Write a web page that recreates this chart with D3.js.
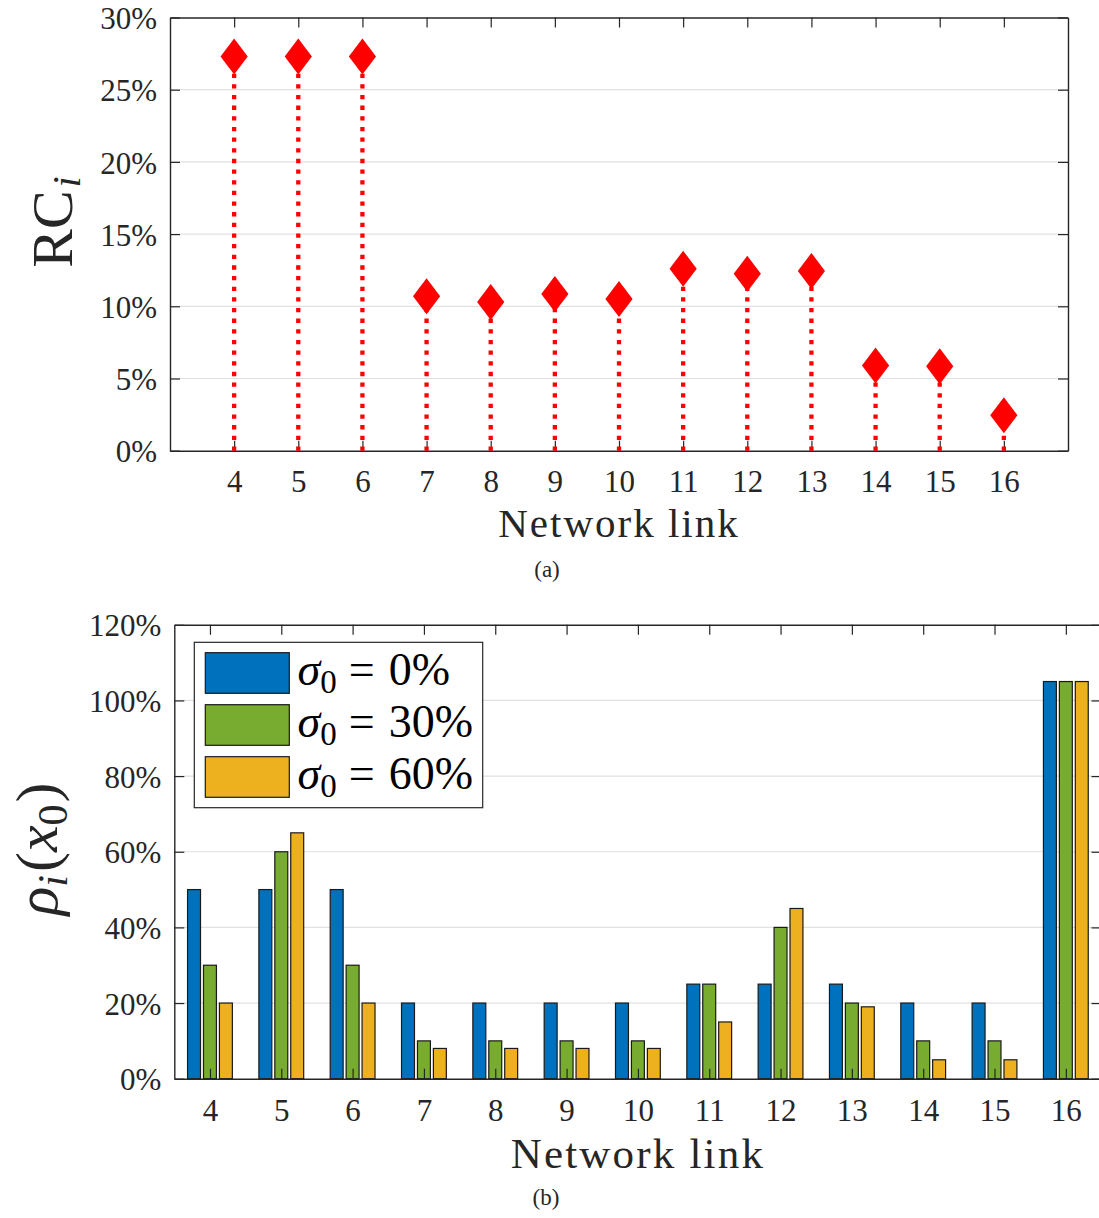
<!DOCTYPE html>
<html>
<head>
<meta charset="utf-8">
<script src="https://cdn.jsdelivr.net/npm/d3@7"></script>
<style>
  body { margin: 0; background: #fff; }
  svg { display: block; font-family: "Liberation Serif", "Times New Roman", serif; }
  svg text { font-family: "Liberation Serif", "Times New Roman", serif; }
</style>
</head>
<body>
<svg id="fig" width="1099" height="1218"></svg>
<script>
// ---- data -------------------------------------------------------------
const links = [4, 5, 6, 7, 8, 9, 10, 11, 12, 13, 14, 15, 16];

// (a) relative contribution of each link, in %
const rcValues = [27.3, 27.3, 27.3, 10.7, 10.3, 10.85, 10.5, 12.6, 12.25, 12.45, 5.9, 5.85, 2.45];
const rcTicks = [0, 5, 10, 15, 20, 25, 30];

// (b) rho_i(x_0) for three initial uncertainty levels, in %
const rhoSigma0 = [50, 50, 50, 20, 20, 20, 20, 25, 25, 25, 20, 20, 105];
const rhoSigma30 = [30, 60, 30, 10, 10, 10, 10, 25, 40, 20, 10, 10, 105];
const rhoSigma60 = [20, 65, 20, 8, 8, 8, 8, 15, 45, 19, 5, 5, 105];
const sigmaLabels = ["0%", "30%", "60%"];
const rhoTicks = [0, 20, 40, 60, 80, 100, 120];

// ---- styling ----------------------------------------------------------
const axisColor = "#262626";
const gridColor = "#e1e1e1";
const seriesColors = ["#0072BD", "#77AC30", "#EDB120"];
const tickFont = 31;

const svg = d3.select("#fig");
const pct = d => d + "%";

function grid(g, x, y, ticks) {
  const [lo, hi] = y.domain();
  g.append("g").selectAll("line")
    .data(ticks.filter(t => t > lo && t < hi))
    .join("line")
    .attr("x1", x.range()[0]).attr("x2", x.range()[1])
    .attr("y1", d => y(d)).attr("y2", d => y(d))
    .attr("stroke", gridColor).attr("stroke-width", 1.2);
}

function box(g, x, y, xTicks, yTicks, xLabelGap) {
  const [x0, x1] = x.range();
  const [y0, y1] = y.range();
  const style = sel => {
    sel.attr("font-family", null);
    sel.selectAll("path.domain").attr("stroke", axisColor).attr("stroke-width", 1.4);
    sel.selectAll(".tick line").attr("stroke", axisColor).attr("stroke-width", 1.2);
    sel.selectAll("text").attr("fill", axisColor).attr("font-size", tickFont);
  };
  g.append("g").attr("transform", `translate(0,${y0})`)
    .call(d3.axisBottom(x).tickValues(xTicks).tickFormat(d3.format("d"))
      .tickSizeInner(-10).tickSizeOuter(0))
    .call(style)
    .call(s => s.selectAll("text").attr("dy", null).attr("y", xLabelGap));
  g.append("g").attr("transform", `translate(0,${y1})`)
    .call(d3.axisTop(x).tickValues(xTicks).tickFormat("")
      .tickSizeInner(-10).tickSizeOuter(0))
    .call(style);
  g.append("g").attr("transform", `translate(${x0},0)`)
    .call(d3.axisLeft(y).tickValues(yTicks).tickFormat(pct)
      .tickSizeInner(-10).tickSizeOuter(0).tickPadding(13))
    .call(style)
    .call(s => s.selectAll("text").attr("dy", "0.36em"));
  g.append("g").attr("transform", `translate(${x1},0)`)
    .call(d3.axisRight(y).tickValues(yTicks).tickFormat("")
      .tickSizeInner(-10).tickSizeOuter(0))
    .call(style);
}

// ---- (a) stem plot ----------------------------------------------------
const xa = d3.scaleLinear().domain([3, 17]).range([170, 1068]);
const ya = d3.scaleLinear().domain([0, 30]).range([450.7, 17.5]);
const ga = svg.append("g");

grid(ga, xa, ya, rcTicks);
box(ga, xa, ya, links, rcTicks, 41);

const stems = ga.append("g");
stems.selectAll("line")
  .data(links.map((l, i) => ({ l, v: rcValues[i] })))
  .join("line")
  .attr("x1", d => xa(d.l)).attr("x2", d => xa(d.l))
  .attr("y1", ya(0)).attr("y2", d => ya(d.v))
  .attr("stroke", "#ff0000").attr("stroke-width", 4.3)
  .attr("stroke-dasharray", "4.3 6.35");

const dW = 13.6, dH = 18;
stems.selectAll("path")
  .data(links.map((l, i) => ({ l, v: rcValues[i] })))
  .join("path")
  .attr("d", d => {
    const cx = xa(d.l), cy = ya(d.v);
    return `M${cx},${cy - dH}L${cx + dW},${cy}L${cx},${cy + dH}L${cx - dW},${cy}Z`;
  })
  .attr("fill", "#ff0000");

// axis titles (a)
const yTitleA = ga.append("text")
  .attr("transform", "translate(71.5,222) rotate(-90)")
  .attr("text-anchor", "middle").attr("fill", axisColor).attr("font-size", 58);
yTitleA.append("tspan").text("RC");
yTitleA.append("tspan").attr("font-style", "italic").attr("font-size", 40)
  .attr("dy", 8).attr("dx", 3).text("i");

ga.append("text")
  .attr("x", (xa.range()[0] + xa.range()[1]) / 2).attr("y", 537)
  .attr("text-anchor", "middle").attr("fill", axisColor)
  .attr("font-size", 41).attr("letter-spacing", 2)
  .text("Network link");

ga.append("text")
  .attr("x", 547).attr("y", 577)
  .attr("text-anchor", "middle").attr("fill", axisColor)
  .attr("font-size", 23).text("(a)");

// ---- (b) grouped bars -------------------------------------------------
const xb = d3.scaleLinear().domain([3.5, 16.5]).range([174.3, 1101.5]);
const yb = d3.scaleLinear().domain([0, 120]).range([1078.7, 624.8]);
const inGroup = d3.scaleBand().domain([0, 1, 2]).range([-22.4, 22.4])
  .paddingInner(0.1875).paddingOuter(0);
const gb = svg.append("g");

grid(gb, xb, yb, rhoTicks);

const seriesValues = [rhoSigma0, rhoSigma30, rhoSigma60];
seriesValues.forEach((vals, s) => {
  gb.append("g").selectAll("rect")
    .data(links.map((l, i) => ({ l, v: vals[i] })))
    .join("rect")
    .attr("x", d => xb(d.l) + inGroup(s))
    .attr("width", inGroup.bandwidth())
    .attr("y", d => yb(d.v))
    .attr("height", d => yb(0) - yb(d.v))
    .attr("fill", seriesColors[s])
    .attr("stroke", "#1a1a1a").attr("stroke-width", 1.2);
});

box(gb, xb, yb, links, rhoTicks, 42);

// legend
const leg = gb.append("g");
leg.append("rect")
  .attr("x", 194.3).attr("y", 642.3).attr("width", 288.4).attr("height", 165.4)
  .attr("fill", "#fff").attr("stroke", axisColor).attr("stroke-width", 1.2);
sigmaLabels.forEach((lab, s) => {
  const top = 652.7 + s * 52;
  leg.append("rect")
    .attr("x", 205.3).attr("y", top).attr("width", 84).attr("height", 40.6)
    .attr("fill", seriesColors[s]).attr("stroke", "#1a1a1a").attr("stroke-width", 1.2);
  const t = leg.append("text")
    .attr("x", 297.5).attr("y", top + 32.3)
    .attr("fill", "#000").attr("font-size", 46);
  t.append("tspan").attr("font-style", "italic").text("σ");
  t.append("tspan").attr("font-size", 33).attr("dy", 8).text("0");
  t.append("tspan").attr("dy", -8).attr("dx", 12).text("=");
  t.append("tspan").attr("dx", 14).text(lab);
});

// axis titles (b)
const yTitleB = gb.append("text")
  .attr("transform", "translate(57,849) rotate(-90)")
  .attr("text-anchor", "middle").attr("fill", axisColor).attr("font-size", 60);
yTitleB.append("tspan").attr("font-style", "italic").text("ρ");
yTitleB.append("tspan").attr("font-style", "italic").attr("font-size", 42).attr("dy", 10).text("i");
yTitleB.append("tspan").attr("dy", -10).attr("dx", 3).text("(");
yTitleB.append("tspan").attr("font-style", "italic").text("x");
yTitleB.append("tspan").attr("font-size", 42).attr("dy", 10).text("0");
yTitleB.append("tspan").attr("dy", -10).attr("dx", 2).text(")");

gb.append("text")
  .attr("x", (xb.range()[0] + xb.range()[1]) / 2).attr("y", 1168)
  .attr("text-anchor", "middle").attr("fill", axisColor)
  .attr("font-size", 43).attr("letter-spacing", 2.2)
  .text("Network link");

gb.append("text")
  .attr("x", 546).attr("y", 1205)
  .attr("text-anchor", "middle").attr("fill", axisColor)
  .attr("font-size", 23).text("(b)");
</script>
</body>
</html>
